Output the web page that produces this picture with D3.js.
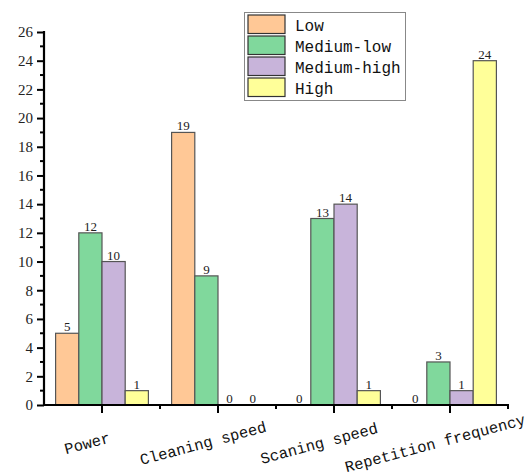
<!DOCTYPE html>
<html>
<head>
<meta charset="utf-8">
<script src="https://cdn.jsdelivr.net/npm/d3@7"></script>
<style>
  html, body { margin: 0; padding: 0; background: #fff; }
  svg { display: block; }
</style>
</head>
<body>
<svg id="chart" width="532" height="476"></svg>
<script>
// Survey counts per parameter and level
const categories = ["Power", "Cleaning speed", "Scaning speed", "Repetition frequency"];
const levels = ["Low", "Medium-low", "Medium-high", "High"];
const lowValues = [5, 19, 0, 0];
const mediumLowValues = [12, 9, 13, 3];
const mediumHighValues = [10, 0, 14, 1];
const highValues = [1, 0, 1, 24];
const yTicks = [0, 2, 4, 6, 8, 10, 12, 14, 16, 18, 20, 22, 24, 26];
const colors = ["#FFC896", "#80D89C", "#C8B4DA", "#FFFF99"];

const seriesValues = [lowValues, mediumLowValues, mediumHighValues, highValues];
const rows = categories.map((c, i) => ({
  category: c,
  values: levels.map((lv, j) => ({ level: lv, value: seriesValues[j][i] }))
}));

const svg = d3.select("#chart");
const plotLeft = 44, plotRight = 508, plotTop = 32, plotBottom = 405;

const x = d3.scaleBand().domain(categories).range([plotLeft, plotRight]).paddingInner(0).paddingOuter(0);
const xInner = d3.scaleBand().domain(levels).range([0, x.bandwidth()]).paddingInner(0).paddingOuter(0.5);
const y = d3.scaleLinear().domain([0, 26]).range([plotBottom, plotTop]);

const serif = "'Liberation Serif', 'DejaVu Serif', serif";
const mono = "'Liberation Mono', 'DejaVu Sans Mono', monospace";

// Bars
const groups = svg.append("g").selectAll("g")
  .data(rows).join("g")
  .attr("transform", d => `translate(${x(d.category)},0)`);

groups.selectAll("rect")
  .data(d => d.values).join("rect")
  .attr("x", d => xInner(d.level))
  .attr("width", xInner.bandwidth())
  .attr("y", d => y(d.value))
  .attr("height", d => y(0) - y(d.value))
  .attr("fill", d => colors[levels.indexOf(d.level)])
  .attr("stroke", "#555")
  .attr("stroke-width", 1.2);

// Value labels
groups.selectAll("text")
  .data(d => d.values).join("text")
  .attr("x", d => xInner(d.level) + xInner.bandwidth() / 2)
  .attr("y", d => y(d.value) - 2)
  .attr("text-anchor", "middle")
  .style("font-family", serif)
  .style("font-size", "13px")
  .attr("fill", "#222")
  .text(d => d.value);

// Y axis
const yMinor = d3.range(1, 26, 2);
const yAxis = svg.append("g").attr("transform", `translate(${plotLeft},0)`);
yAxis.call(d3.axisLeft(y).tickValues(yTicks).tickSize(7).tickPadding(4).tickFormat(d3.format("d")));
yAxis.selectAll(".tick line").attr("stroke", "#000").attr("stroke-width", 2);
yAxis.selectAll(".tick text")
  .style("font-family", serif).style("font-size", "15px").attr("fill", "#222");
yAxis.select(".domain").remove();
yAxis.selectAll(".minor").data(yMinor).join("line")
  .attr("class", "minor")
  .attr("x1", -4).attr("x2", 0)
  .attr("y1", d => y(d)).attr("y2", d => y(d))
  .attr("stroke", "#000").attr("stroke-width", 2);
yAxis.append("line")
  .attr("x1", 0).attr("x2", 0).attr("y1", plotTop - 1).attr("y2", plotBottom + 1)
  .attr("stroke", "#000").attr("stroke-width", 2.2);

// X axis
const xAxis = svg.append("g").attr("transform", `translate(0,${plotBottom})`);
xAxis.append("line")
  .attr("x1", plotLeft).attr("x2", plotRight + 1).attr("y1", 0).attr("y2", 0)
  .attr("stroke", "#000").attr("stroke-width", 2.2);
xAxis.selectAll(".major").data(categories).join("line")
  .attr("class", "major")
  .attr("x1", d => x(d) + x.bandwidth() / 2).attr("x2", d => x(d) + x.bandwidth() / 2)
  .attr("y1", 0).attr("y2", 8)
  .attr("stroke", "#000").attr("stroke-width", 2);
xAxis.selectAll(".minor").data(categories).join("line")
  .attr("class", "minor")
  .attr("x1", d => x(d) + x.bandwidth()).attr("x2", d => x(d) + x.bandwidth())
  .attr("y1", 0).attr("y2", 4)
  .attr("stroke", "#000").attr("stroke-width", 2);

// Category labels, tilted
xAxis.selectAll(".cat").data(categories).join("text")
  .attr("class", "cat")
  .attr("transform", d => `translate(${x(d) + x.bandwidth() / 2 - 15},${38}) rotate(-15)`)
  .attr("text-anchor", "middle")
  .attr("dy", "0.35em")
  .style("font-family", mono)
  .style("font-size", "15.5px")
  .attr("fill", "#111")
  .text(d => d);

// Legend
const legend = svg.append("g");
legend.append("rect")
  .attr("x", 244.5).attr("y", 12.5).attr("width", 161).attr("height", 88)
  .attr("fill", "#fff").attr("stroke", "#888").attr("stroke-width", 1);
const items = legend.selectAll(".item").data(levels).join("g")
  .attr("class", "item")
  .attr("transform", (d, i) => `translate(248,${15 + i * 21})`);
items.append("rect")
  .attr("width", 37).attr("height", 18.5)
  .attr("fill", (d, i) => colors[i])
  .attr("stroke", "#333").attr("stroke-width", 1.2);
items.append("text")
  .attr("x", 47).attr("y", 15.5)
  .style("font-family", mono)
  .style("font-size", "16px")
  .attr("fill", "#111")
  .text(d => d);
</script>
</body>
</html>
